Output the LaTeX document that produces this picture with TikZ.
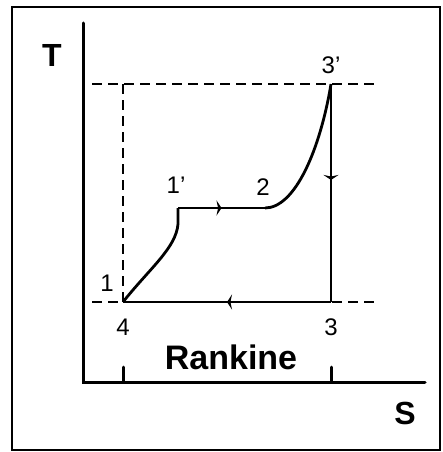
\documentclass[tikz,border=0pt]{standalone}
\usepackage{fontspec}
\setmainfont{Liberation Sans}
\usetikzlibrary{arrows.meta,decorations.markings}

\begin{document}
\begin{tikzpicture}[
x=1pt, y=-1pt,
axis/.style={line width=3pt, line cap=round},
proc/.style={line width=2.8pt, line join=round},
guide/.style={line width=1.8pt, dash pattern=on 10pt off 6pt},
dirmark/.style={postaction={decorate},
    decoration={markings, mark=at position #1 with {\arrow{Stealth[length=5pt,width=15pt]}}}},
lbl/.style={font=\fontsize{24}{24}\selectfont, inner sep=0pt},
axlbl/.style={font=\fontsize{32}{32}\selectfont\bfseries, inner sep=0pt}
]

\useasboundingbox (0,0) rectangle (442,452);
\draw[line width=2pt] (12,7) rectangle (440,450);

% axes
\coordinate (origin) at (83,382);
\coordinate (ytop) at (83,23);
\coordinate (xend) at (425,382);
\draw[axis] (ytop) -- (origin) -- (xend);
\draw[axis] (123,367) -- (123,382);
\draw[axis] (331,367) -- (331,382);

\node[axlbl] (tlabel) at (52,55) {T};
\node[axlbl] (slabel) at (405,413) {S};

% state points
\coordinate (p4) at (123,302);
\coordinate (p3) at (331,302);
\coordinate (p3s) at (331,84);
\coordinate (p1s) at (178,208);
\coordinate (p2) at (265,208);

% guide lines
\coordinate (topl) at (92,84);
\coordinate (topr) at (375,84);
\coordinate (botl) at (92,302);
\coordinate (botr) at (375,302);
\coordinate (top4) at (123,84);
\draw[guide] (topl) -- (topr);
\draw[guide] (botl) -- (botr);
\draw[guide] (top4) -- (p4);

% cycle
\draw[proc] (p4) .. controls (150,268) and (176,248) .. (178,224) -- (p1s);
\draw[proc, dirmark=0.5] (p1s) -- (p2);
\draw[proc] (p2) .. controls (295,208) and (320,150) .. (p3s);
\draw[proc, dirmark=0.44] (p3s) -- (p3);
\draw[proc, dirmark=0.5] (p3) -- (p4);

\node[lbl] (l1) at (107,283) {1};
\node[lbl] (l1s) at (176,185) {1'};
\node[lbl] (l2) at (263,187) {2};
\node[lbl] (l3s) at (331,65) {3'};
\node[lbl] (l4) at (123,327) {4};
\node[lbl] (l3) at (331,327) {3};
\node[font=\fontsize{34}{34}\selectfont\bfseries, inner sep=0pt] (title) at (231,357) {Rankine};

\end{tikzpicture}
\end{document}
